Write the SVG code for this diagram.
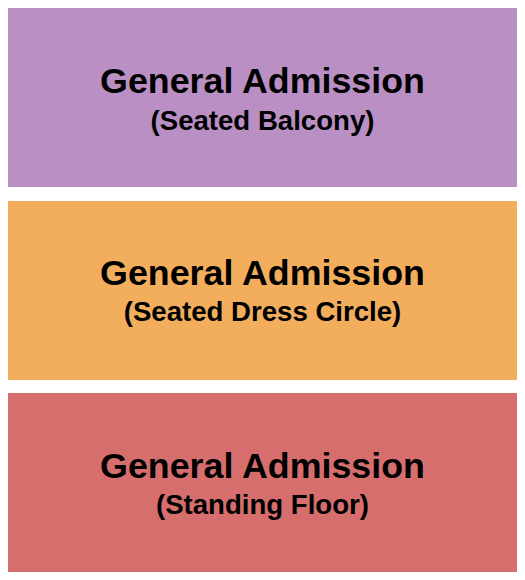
<svg xmlns="http://www.w3.org/2000/svg" width="525" height="580" viewBox="0 0 525 580">
<style>
.t{font-family:"Liberation Sans",Arial,sans-serif;font-weight:bold;fill:#000;text-anchor:middle}
.h{font-size:35.8px}
.s{font-size:27.6px}
</style>
<rect width="525" height="580" fill="#fff"/>
<g id="balcony">
<rect x="8" y="8" width="509" height="179" fill="#BA90C4"/>
<text class="t h" x="262.5" y="92.5">General Admission</text>
<text class="t s" x="262.5" y="129.5">(Seated Balcony)</text>
</g>
<g id="dress-circle">
<rect x="8" y="201" width="509" height="179" fill="#F2AE5C"/>
<text class="t h" x="262.5" y="285">General Admission</text>
<text class="t s" x="262.5" y="321">(Seated Dress Circle)</text>
</g>
<g id="floor">
<rect x="8" y="393" width="509" height="179" fill="#D76E6E"/>
<text class="t h" x="262.5" y="477.5">General Admission</text>
<text class="t s" x="262.5" y="513.5">(Standing Floor)</text>
</g>
<g id="connectors"/>
</svg>
